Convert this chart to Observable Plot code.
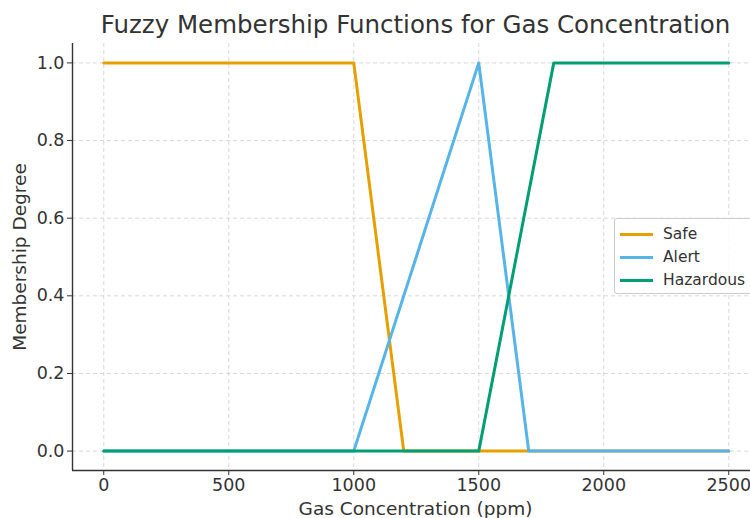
<!DOCTYPE html>
<html>
<head>
<meta charset="utf-8">
<script src="https://cdn.jsdelivr.net/npm/d3@7"></script>
<script src="https://cdn.jsdelivr.net/npm/@observablehq/plot@0.6"></script>
<style>
  html, body { margin: 0; padding: 0; background: #fff; }
  body { width: 750px; height: 518px; overflow: hidden; position: relative; font-family: "DejaVu Sans", sans-serif; }
  #title { position: absolute; left: 72px; width: 687px; top: 12px; text-align: center; font-size: 24.5px; line-height: 26px; color: #333; white-space: nowrap; }
  #chart { position: absolute; left: 0; top: 43px; }
  #legend { position: absolute; left: 614px; top: 218px; width: 150px; height: 76px; border: 1px solid #ccc; border-radius: 3px; background: rgba(255,255,255,0.85); box-sizing: border-box; }
  .row { position: absolute; left: 5px; height: 20px; display: flex; align-items: center; font-size: 15.5px; color: #333; }
  .sw { width: 33px; height: 0; border-top: 3px solid; margin-right: 10px; }
</style>
</head>
<body>
<div id="title">Fuzzy Membership Functions for Gas Concentration</div>
<div id="chart"></div>
<div id="legend"></div>
<script>
const seriesNames = ["Safe", "Alert", "Hazardous"];
const seriesColors = ["#E69F00", "#56B4E9", "#009E73"];
const safeX = [0, 1000, 1200, 2500];
const safeY = [1, 1, 0, 0];
const alertX = [0, 1000, 1500, 1700, 2500];
const alertY = [0, 0, 1, 0, 0];
const hazX = [0, 1500, 1800, 2500];
const hazY = [0, 0, 1, 1];
const xTicks = [0, 500, 1000, 1500, 2000, 2500];
const yTicks = [0, 0.2, 0.4, 0.6, 0.8, 1.0];
const xLabel = "Gas Concentration (ppm)";
const yLabel = "Membership Degree";

const data = [];
[[safeX, safeY], [alertX, alertY], [hazX, hazY]].forEach(([xs, ys], i) => {
  xs.forEach((x, j) => data.push({series: seriesNames[i], x, y: ys[j]}));
});

const chart = Plot.plot({
  width: 750,
  height: 475,
  marginLeft: 72,
  marginRight: 0,
  marginTop: 0,
  marginBottom: 48,
  style: {fontFamily: "DejaVu Sans, sans-serif", fontSize: "17.5px", color: "#333", background: "transparent"},
  x: {domain: [-125, 2587]},
  y: {domain: [-0.05, 1.05]},
  color: {domain: seriesNames, range: seriesColors},
  marks: [
    Plot.gridX(xTicks, {stroke: "#cfcfcf", strokeOpacity: 1, strokeDasharray: "4,3", strokeWidth: 0.8}),
    Plot.gridY(yTicks, {stroke: "#cfcfcf", strokeOpacity: 1, strokeDasharray: "4,3", strokeWidth: 0.8}),
    Plot.line(data, {x: "x", y: "y", z: "series", stroke: "series", strokeWidth: 3}),
    Plot.ruleX([-125], {stroke: "#333", strokeWidth: 1.4}),
    Plot.ruleY([-0.05], {stroke: "#333", strokeWidth: 1.4}),
    Plot.axisX({ticks: xTicks, tickFormat: d => String(d), tickSize: 5, tickPadding: 3, label: null, stroke: "#333", fill: "#333", fontSize: 17.5}),
    Plot.axisY({ticks: yTicks, tickFormat: d => d.toFixed(1), tickSize: 5, tickPadding: 3, label: null, stroke: "#333", fill: "#333", fontSize: 17.5}),
    Plot.text([xLabel], {frameAnchor: "bottom", dy: 39, dx: 4, textAnchor: "middle", lineAnchor: "middle", fontSize: 18.5, fill: "#333"}),
    Plot.text([yLabel], {frameAnchor: "left", dx: -52, rotate: -90, textAnchor: "middle", lineAnchor: "middle", fontSize: 18.5, fill: "#333"})
  ]
});
document.getElementById("chart").appendChild(chart);

const legend = document.getElementById("legend");
seriesNames.forEach((name, i) => {
  const row = document.createElement("div");
  row.className = "row";
  row.style.top = (5 + i * 23) + "px";
  const sw = document.createElement("div");
  sw.className = "sw";
  sw.style.borderTopColor = seriesColors[i];
  const t = document.createElement("span");
  t.textContent = name;
  row.appendChild(sw);
  row.appendChild(t);
  legend.appendChild(row);
});
</script>
</body>
</html>
